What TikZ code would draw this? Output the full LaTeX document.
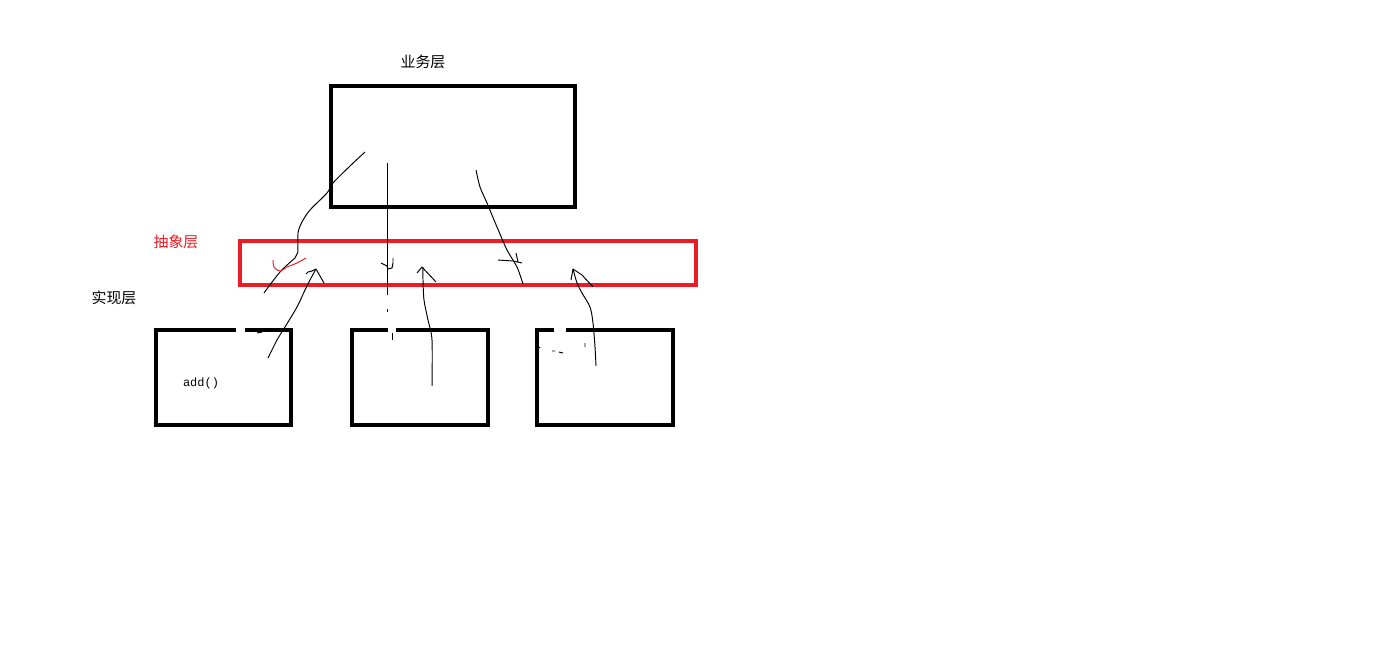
\documentclass[tikz,border=0pt]{standalone}
\usepackage{fontspec}
\newfontfamily\cjk{Noto Sans CJK SC}
\newfontfamily\codefont{Liberation Mono}
\definecolor{paintred}{RGB}{237,28,36}

\begin{document}
\begin{tikzpicture}[x=0.02cm,y=-0.02cm,
        layerbox/.style={draw, line width=0.08cm, inner sep=0pt},
        pen/.style={line width=0.55pt, line join=round},
        layertext/.style={font=\cjk\fontsize{8.5}{10}\selectfont},
        gap/.style={fill=white}]
                \useasboundingbox (0,0) rectangle (1385,663);

                % boxes
                \node[layerbox, minimum width=4.88cm, minimum height=2.42cm] (biz) at (453,146.5) {};
                \node[layerbox, draw=paintred, minimum width=9.12cm, minimum height=0.88cm] (abs) at (468,263) {};
                \node[layerbox, minimum width=2.7cm, minimum height=1.9cm] (impla) at (223.5,377.5) {};
                \node[layerbox, minimum width=2.72cm, minimum height=1.9cm] (implb) at (420,377.5) {};
                \node[layerbox, minimum width=2.72cm, minimum height=1.9cm] (implc) at (605,377.5) {};

                % labels
                \node[layertext] (bizlabel) at (423,62) {业务层};
                \node[layertext, text=paintred] (abslabel) at (176,242) {抽象层};
                \node[layertext] (impllabel) at (114,298) {实现层};
                \node[font=\codefont\fontsize{6.8}{8}\selectfont] (addcall) at (201,383) {add()};

                % erased bits on the box tops
                \path[gap] (236,327.5) rectangle (245,333);
                \path[gap] (388,327.5) rectangle (396,333);
                \path[gap] (554,327.5) rectangle (566,333);
                \draw[pen] (392,333) -- (392,340);
                \draw[pen] (257,333) -- (262,332);
                \draw[pen] (552,351) -- (555,351) (559,352) -- (563,353);
                \draw[pen] (539,347) -- (540,348) (585,343) -- (585,347);

                % from business layer down
                \draw[pen] plot[smooth] coordinates {(365,152) (350,166) (333,183) (327,193) (310,210) (302,222) (298,233) (298,252)}
                    -- (295,258) -- plot[smooth] coordinates {(295,258) (280,272) (264,293)};
                \draw[pen, paintred] plot[smooth] coordinates {(273,260) (274,267) (280,271) (287,267) (297,263) (306,258)};

                \draw[pen] (387,163) -- (387,295) (387,309) -- (387,312);
                \draw[pen] (381,263) -- (387,266) -- (388,269) -- (392,268) -- (393,263) -- (393,258);

                \draw[pen] plot[smooth] coordinates {(476,170) (480,187) (487,203) (497,227) (507,250) (517,267) (523,284)};
                \draw[pen] (498,260) -- (513,261) -- (522,263) (516,253) -- (518,262);

                % from implementations up
                \draw[pen] plot[smooth] coordinates {(268,358) (277,340) (285,327) (297,307) (305,290) (310,280) (316,269)};
                \draw[pen] (306,274) -- (308,272) -- (312,271) -- (316,269) -- (324,283);

                \draw[pen] plot[smooth] coordinates {(432,386) (432,340) (428,320) (424,300) (423,280) (423,267)};
                \draw[pen] (417,273) -- (422,267) -- (436,282);

                \draw[pen] plot[smooth] coordinates {(596,366) (595,347) (593,323) (590,307) (582,293) (577,283) (573,269)};
                \draw[pen] (571,280) -- (573,269) -- (582,275) -- (593,287);
            \end{tikzpicture}
\end{document}
